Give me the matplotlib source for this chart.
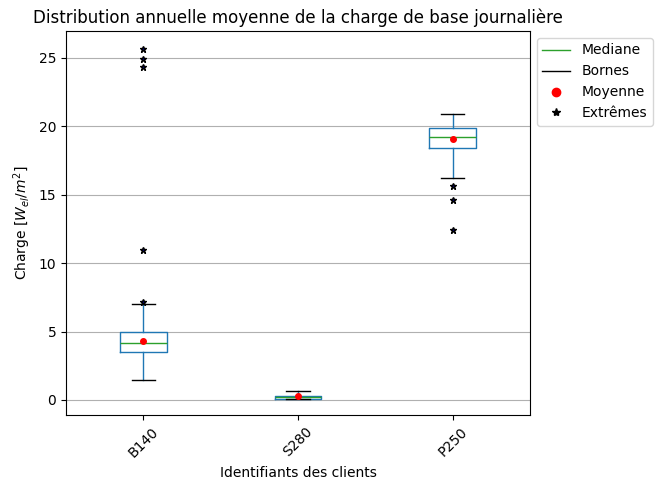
import matplotlib.pyplot as plt
from matplotlib.lines import Line2D

clients = ['B140', 'S280', 'P250']
q1 = [3.51, 0.07, 18.42]
med = [4.17, 0.20, 19.22]
q3 = [4.97, 0.30, 19.88]
whislo = [1.46, 0.05, 16.23]
whishi = [7.02, 0.66, 20.90]
means = [4.30, 0.30, 19.08]
fliers = [[25.66, 24.90, 24.34, 10.96, 7.16], [], [15.64, 14.62, 12.43]]

stats = []
for i, c in enumerate(clients):
    stats.append(dict(label=c, q1=q1[i], med=med[i], q3=q3[i], whislo=whislo[i],
                      whishi=whishi[i], mean=means[i], fliers=fliers[i]))

fig, ax = plt.subplots(figsize=(6.62, 4.91), dpi=100)
fig.subplots_adjust(left=0.0997, right=0.8006, top=0.9369, bottom=0.1548)

ax.bxp(stats, positions=[1, 2, 3], widths=0.3, capwidths=0.15, showmeans=True,
       boxprops=dict(color='#1f77b4'),
       whiskerprops=dict(color='#1f77b4'),
       capprops=dict(color='black'),
       medianprops=dict(color='#2ca02c'),
       meanprops=dict(marker='o', markerfacecolor='red', markeredgecolor='red', markersize=4),
       flierprops=dict(marker='*', markerfacecolor='#000080', markeredgecolor='black', markersize=5))

ax.set_xlim(0.5, 3.5)
ax.set_ylim(-1.1, 26.97)
ax.yaxis.grid(True, color='#b0b0b0')
ax.set_axisbelow(True)
ax.tick_params(axis='x', labelrotation=45)
ax.set_title('Distribution annuelle moyenne de la charge de base journalière')
ax.set_xlabel('Identifiants des clients')
ax.set_ylabel('Charge [$W_{el}/m^2$]')

handles = [Line2D([], [], color='#2ca02c', lw=1),
           Line2D([], [], color='black', lw=1),
           Line2D([], [], color='red', marker='o', ls='none'),
           Line2D([], [], color='black', marker='*', ls='none')]
ax.legend(handles, ['Mediane', 'Bornes', 'Moyenne', 'Extrêmes'],
          loc='upper left', bbox_to_anchor=(1.0, 1.0))

fig.savefig('out.png')
